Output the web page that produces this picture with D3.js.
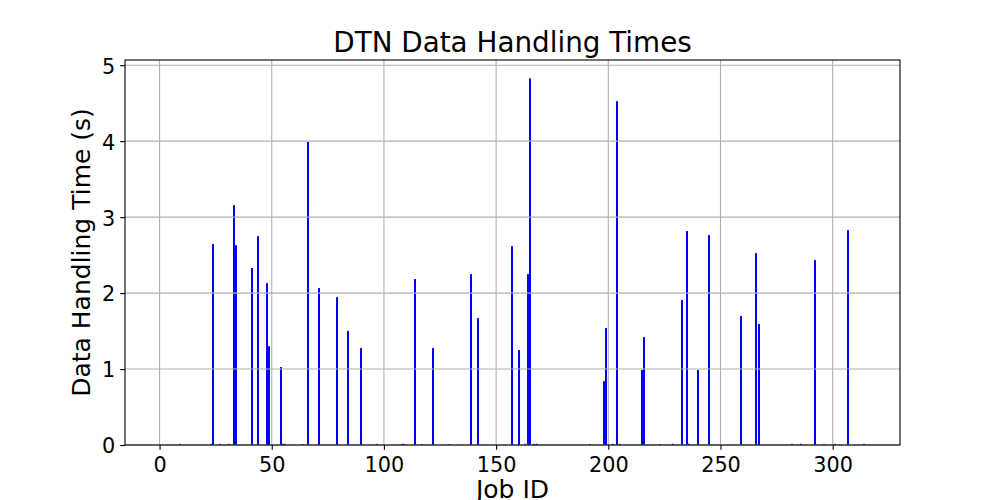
<!DOCTYPE html>
<html>
<head>
<meta charset="utf-8">
<script src="https://cdn.jsdelivr.net/npm/d3@7"></script>
<style>
  body { margin: 0; background: #ffffff; }
  svg { display: block; font-family: "DejaVu Sans", sans-serif; }
</style>
</head>
<body>
<svg id="chart" width="1000" height="500"></svg>
<script>
// ---- data ----
const jobIds = [
  9, 23, 24, 27, 31, 33, 34, 41, 44, 48, 49, 54, 55, 56, 64, 66, 71, 79, 84, 90, 97,
  108, 109, 114, 117, 122, 129, 139, 142, 157, 160, 163, 164, 165, 167, 168,
  192, 198, 199, 202, 204, 205, 215, 216, 223, 229, 233, 235, 236, 240, 245,
  259, 266, 267, 282, 286, 292, 296, 301, 307, 314
];
const handlingTimes = [
  0.015, 0.015, 2.645, 0.015, 0.015, 3.158, 2.63, 2.33, 2.75, 2.13, 1.30, 1.026, 0.015, 0.015, 0.012, 3.99, 2.066, 1.947, 1.50, 1.276, 0.015,
  0.015, 0.015, 2.184, 0.012, 1.276, 0.012, 2.25, 1.67, 2.618, 1.25, 0.015, 2.25, 4.827, 0.015, 0.015,
  0.012, 0.84, 1.54, 0.015, 4.526, 0.015, 0.987, 1.42, 0.012, 0.015, 1.908, 2.816, 0.015, 0.987, 2.763,
  1.697, 2.526, 1.592, 0.015, 0.015, 2.434, 0.012, 0.015, 2.829, 0.015
];
const xTicks = [0, 50, 100, 150, 200, 250, 300];
const yTicks = [0, 1, 2, 3, 4, 5];
const xDomain = [-15.4, 330.0];
const barWidthUnits = 0.8;
const titleText = "DTN Data Handling Times";
const xLabelText = "Job ID";
const yLabelText = "Data Handling Time (s)";

// ---- layout ----
const W = 1000, H = 500;
const margin = { left: 125, right: 100, top: 60, bottom: 55 };
const iw = W - margin.left - margin.right;
const ih = H - margin.top - margin.bottom;
const tickLen = 4.86, tickPad = 4.86;
const lineW = 1.1;

const svg = d3.select("#chart");
svg.append("rect").attr("width", W).attr("height", H).attr("fill", "#ffffff");

const g = svg.append("g").attr("transform", `translate(${margin.left},${margin.top})`);

const x = d3.scaleLinear().domain(xDomain).range([0, iw]);
const y = d3.scaleLinear().domain([0, d3.max(handlingTimes) * 1.05]).range([ih, 0]);

const data = jobIds.map((id, i) => ({ id, v: handlingTimes[i] }));

// bars (snapped to whole pixels, like matplotlib)
const barPx = Math.max(1, Math.round(x(barWidthUnits) - x(0)));
g.append("g")
  .selectAll("rect").data(data).join("rect")
  .attr("x", d => Math.round(x(d.id) - barPx / 2))
  .attr("width", barPx)
  .attr("y", d => Math.min(y(d.v), y(0) - 1))
  .attr("height", d => Math.max(1, y(0) - y(d.v)))
  .attr("fill", "#0000ff");

// grid (drawn above bars, like matplotlib default)
const grid = g.append("g").attr("stroke", "#b0b0b0").attr("stroke-width", lineW);
grid.selectAll("line.vx").data(xTicks).join("line")
  .attr("x1", d => x(d)).attr("x2", d => x(d)).attr("y1", 0).attr("y2", ih);
grid.selectAll("line.hy").data(yTicks).join("line")
  .attr("x1", 0).attr("x2", iw).attr("y1", d => y(d)).attr("y2", d => y(d));

// axes
const xAxis = g.append("g").attr("transform", `translate(0,${ih})`)
  .call(d3.axisBottom(x).tickValues(xTicks).tickFormat(d3.format("d"))
        .tickSize(tickLen).tickPadding(tickPad).tickSizeOuter(0));
xAxis.select(".domain").remove();
xAxis.selectAll(".tick line").attr("stroke", "#000").attr("stroke-width", lineW);
xAxis.selectAll(".tick text").attr("font-family", "DejaVu Sans").attr("font-size", "20.8px")
  .attr("fill", "#000").attr("dy", "0.82em");

const yAxis = g.append("g")
  .call(d3.axisLeft(y).tickValues(yTicks).tickFormat(d3.format("d"))
        .tickSize(tickLen).tickPadding(tickPad).tickSizeOuter(0));
yAxis.select(".domain").remove();
yAxis.selectAll(".tick line").attr("stroke", "#000").attr("stroke-width", lineW);
yAxis.selectAll(".tick text").attr("font-family", "DejaVu Sans").attr("font-size", "20.8px")
  .attr("fill", "#000").attr("dy", "0.38em");

// spines
g.append("rect").attr("x", 0).attr("y", 0).attr("width", iw).attr("height", ih)
  .attr("fill", "none").attr("stroke", "#000").attr("stroke-width", lineW);

// title and labels
svg.append("text").attr("x", margin.left + iw / 2).attr("y", 51.7)
  .attr("text-anchor", "middle").attr("font-size", "27.8px").attr("fill", "#000")
  .text(titleText);
svg.append("text").attr("x", margin.left + iw / 2).attr("y", 497.5)
  .attr("text-anchor", "middle").attr("font-size", "25px").attr("fill", "#000")
  .text(xLabelText);
svg.append("text")
  .attr("transform", `translate(89.5,${margin.top + ih / 2}) rotate(-90)`)
  .attr("text-anchor", "middle").attr("font-size", "25px").attr("fill", "#000")
  .text(yLabelText);
</script>
</body>
</html>
